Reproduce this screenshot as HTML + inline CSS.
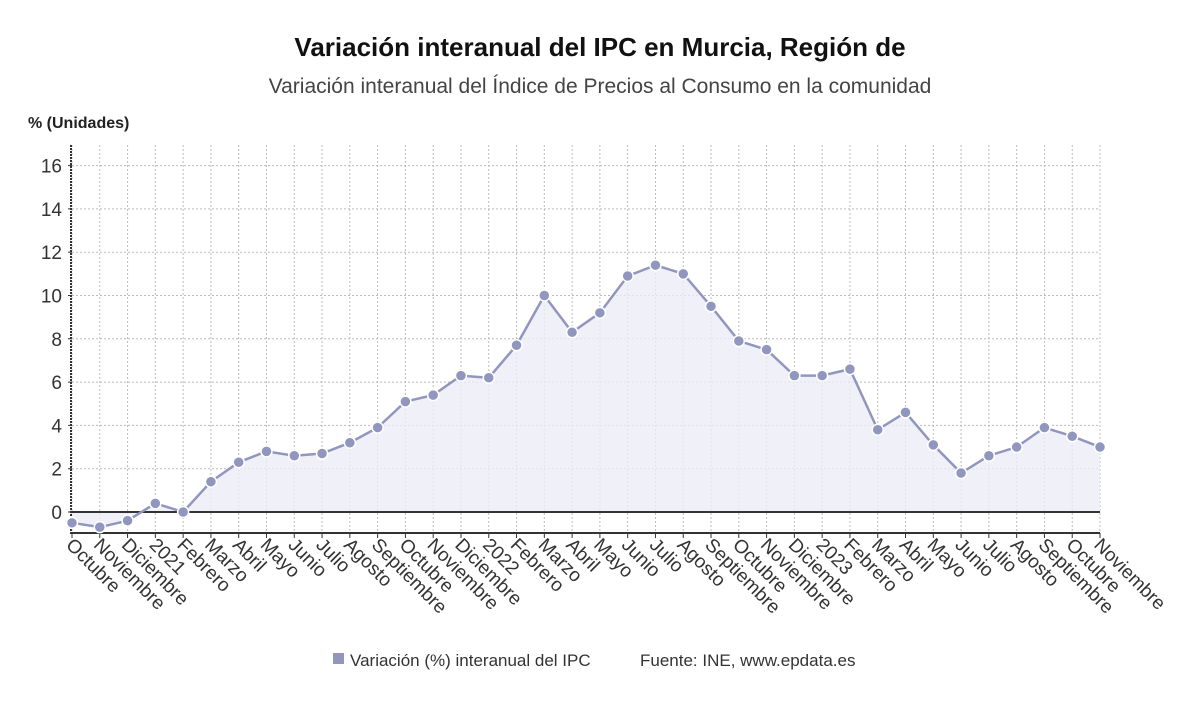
<!DOCTYPE html>
<html><head><meta charset="utf-8">
<style>
body{margin:0;width:1200px;height:705px;background:#fff;font-family:"Liberation Sans",sans-serif;overflow:hidden}
svg{display:block}
</style></head>
<body>
<svg id="chart" width="1200" height="705">
<text x="600" y="56" text-anchor="middle" font-size="26" font-weight="bold" fill="#111">Variación interanual del IPC en Murcia, Región de</text>
<text x="600" y="93" text-anchor="middle" font-size="21" fill="#444">Variación interanual del Índice de Precios al Consumo en la comunidad</text>
<text x="28" y="128" font-size="16" font-weight="bold" fill="#222">% (Unidades)</text>
<g id="grid"></g><g id="area"></g><g id="axes"></g><g id="series"></g><g id="xlabels"></g>
<rect x="333" y="653" width="11" height="11" fill="#9196bf"/>
<text x="350" y="666" font-size="17" fill="#333">Variación (%) interanual del IPC</text>
<text x="640" y="666" font-size="17" fill="#333">Fuente: INE, www.epdata.es</text>
</svg>
<script>
const categories=["Octubre","Noviembre","Diciembre","2021","Febrero","Marzo","Abril","Mayo","Junio","Julio","Agosto","Septiembre","Octubre","Noviembre","Diciembre","2022","Febrero","Marzo","Abril","Mayo","Junio","Julio","Agosto","Septiembre","Octubre","Noviembre","Diciembre","2023","Febrero","Marzo","Abril","Mayo","Junio","Julio","Agosto","Septiembre","Octubre","Noviembre"];
const values=[-0.5,-0.7,-0.4,0.4,0.0,1.4,2.3,2.8,2.6,2.7,3.2,3.9,5.1,5.4,6.3,6.2,7.7,10.0,8.3,9.2,10.9,11.4,11.0,9.5,7.9,7.5,6.3,6.3,6.6,3.8,4.6,3.1,1.8,2.6,3.0,3.9,3.5,3.0];
const yTicks=[0,2,4,6,8,10,12,14,16];
const NS="http://www.w3.org/2000/svg";
const X0=72,X1=1100,Y0=512,PU=21.65;
const x=i=>X0+(X1-X0)*i/(categories.length-1);
const y=v=>Y0-v*PU;
function mk(t,a,p){const e=document.createElementNS(NS,t);for(const k in a)e.setAttribute(k,a[k]);p.appendChild(e);return e;}
const grid=document.getElementById('grid'),axes=document.getElementById('axes'),ser=document.getElementById('series'),xl=document.getElementById('xlabels'),ar=document.getElementById('area');
yTicks.forEach(t=>{
 const g=mk('line',{x1:X0,x2:X1,y1:y(t),y2:y(t),stroke:'#bbb','stroke-dasharray':'2,2'},grid);
 
 
 mk('line',{x1:X0-4,x2:X0,y1:y(t),y2:y(t),stroke:'#333'},axes);
 const tx=mk('text',{x:X0-10,y:y(t)+7,'text-anchor':'end','font-size':19,fill:'#333'},axes);
 tx.textContent=t;
 
 
});
categories.forEach((c,i)=>{
 const g=mk('line',{x1:x(i),x2:x(i),y1:145,y2:533,stroke:'#bbb','stroke-dasharray':'2,2'},grid);
 
 
 mk('line',{x1:x(i),x2:x(i),y1:533,y2:538,stroke:'#333'},axes);
 const tx=mk('text',{x:0,y:0,'font-size':19,fill:'#333',transform:`translate(${x(i)-7},${546}) rotate(45)`},xl);
 tx.textContent=c;
 
 
});
let d=`M${x(0)},${Y0}`;values.forEach((v,i)=>d+=`L${x(i)},${y(v)}`);d+=`L${x(values.length-1)},${Y0}Z`;
const a=mk('path',{d,fill:'#eceef6',opacity:0.8},ar);


const zl=mk('line',{x1:X0,x2:X1,y1:Y0,y2:Y0,stroke:'#333','stroke-width':2},axes);


const bl=mk('line',{x1:X0,x2:X1,y1:533,y2:533,stroke:'#333','stroke-width':2},axes);


const vl=mk('line',{x1:X0-1,x2:X0-1,y1:145,y2:534,stroke:'#333','stroke-width':2,'stroke-dasharray':'2,1'},axes);


const pl=mk('polyline',{points:values.map((v,i)=>x(i)+','+y(v)).join(' '),fill:'none',stroke:'#9196bf','stroke-width':2.5},ser);


values.forEach((v,i)=>{
 const p=mk('circle',{cx:x(i),cy:y(v),r:5.5,fill:'#9196bf',stroke:'#fff','stroke-width':1.5},ser);
 
 
});
</script>
</body></html>
